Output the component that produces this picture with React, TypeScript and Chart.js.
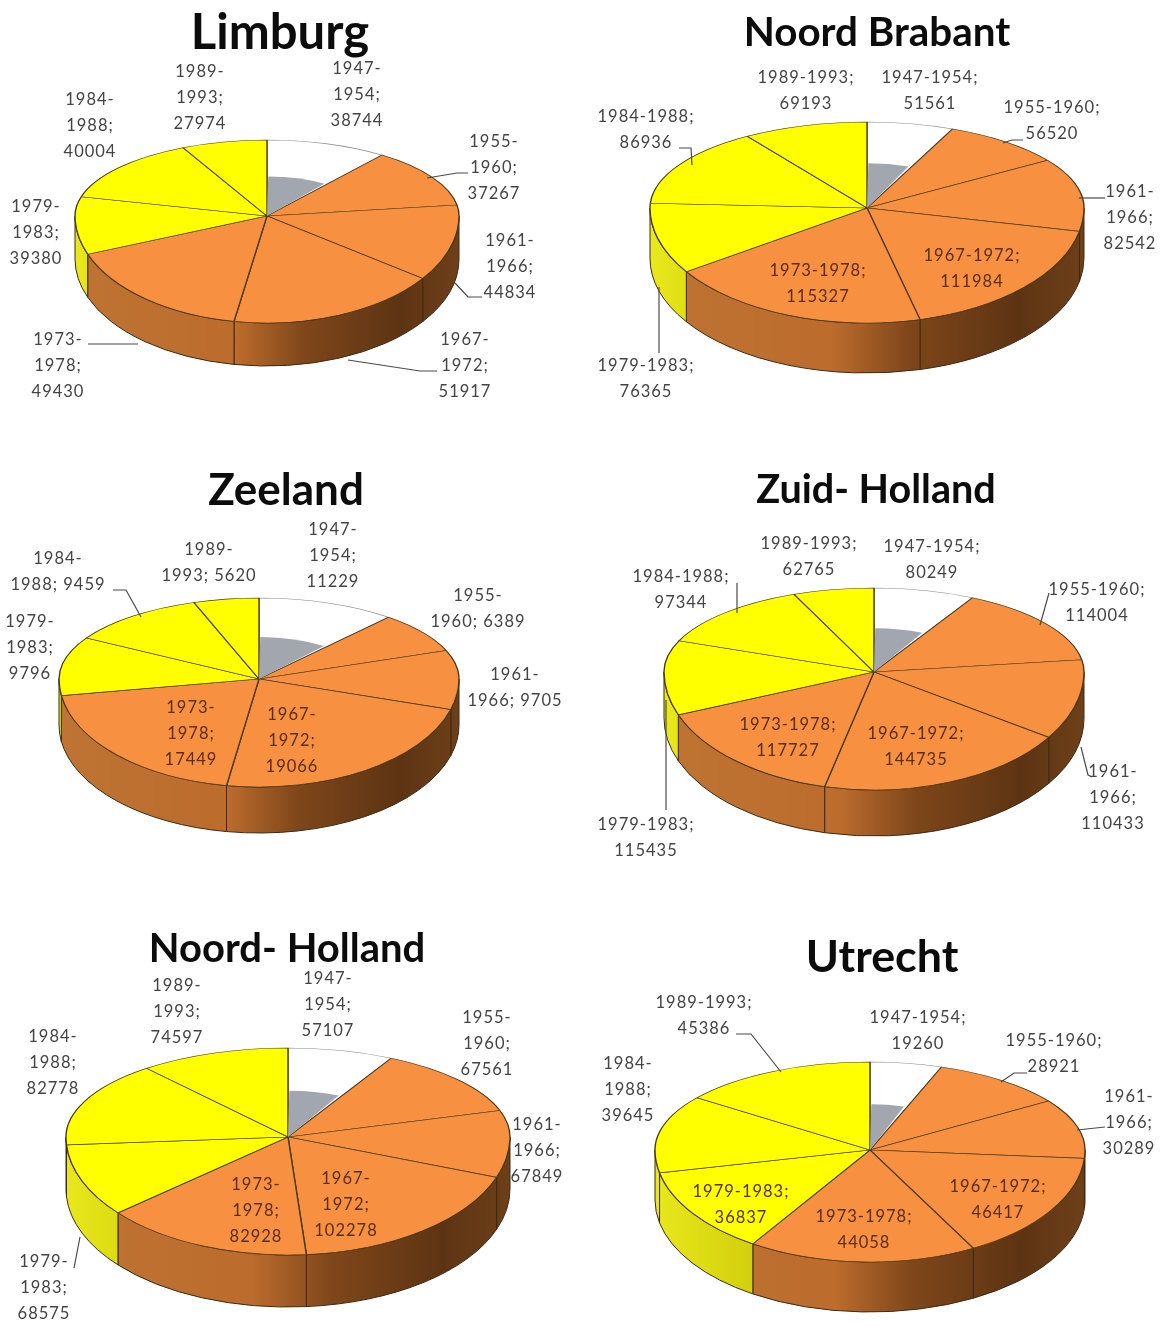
import React, { useEffect, useRef } from "react";
import { Chart, registerables } from "chart.js";

Chart.register(...registerables);

const categories = ["1947-1954", "1955-1960", "1961-1966", "1967-1972", "1973-1978", "1979-1983", "1984-1988", "1989-1993"];
const limburg = [38744, 37267, 44834, 51917, 49430, 39380, 40004, 27974];
const noordBrabant = [51561, 56520, 82542, 111984, 115327, 76365, 86936, 69193];
const zeeland = [11229, 6389, 9705, 19066, 17449, 9796, 9459, 5620];
const zuidHolland = [80249, 114004, 110433, 144735, 117727, 115435, 97344, 62765];
const noordHolland = [57107, 67561, 67849, 102278, 82928, 68575, 82778, 74597];
const utrecht = [19260, 28921, 30289, 46417, 44058, 36837, 39645, 45386];

const sliceColors = ["#FFFFFF", "#F79040", "#F79040", "#F79040", "#F79040", "#FFFF00", "#FFFF00", "#FFFF00"];

// 3D view distortion of the drawn angle: [angle in degrees, shift in degrees]
const viewWarp = [[-90, 0], [-55, -6.5], [-10, -1], [40, -6.5], [90, 0], [120, 4], [141, 5], [152, 6.5], [165, 3.4], [176, 0], [196, -1], [225, 5], [243, 4.5], [270, 0]];

function warp(rad: number): number {
  const d = (rad * 180) / Math.PI;
  for (let i = 1; i < viewWarp.length; i++) {
    const [a0, s0] = viewWarp[i - 1];
    const [a1, s1] = viewWarp[i];
    if (d <= a1) return ((d + s0 + ((s1 - s0) * (d - a0)) / (a1 - a0)) * Math.PI) / 180;
  }
  return rad;
}

// label layout: [mode, centre x, first line centre y, inside slice]
// mode n = three lines, w = two lines, z = year / year + value
type Lab = [string, number, number, boolean?];
type Panel = {
  title: string; data: number[]; box: number[]; cx: number; cy: number; rx: number; ryT: number; ryB: number;
  depth: number; tx: number; ty: number; ts: number; labels: Lab[]; leaders: number[][][];
};

const panels: Panel[] = [
  {
    title: "Limburg", data: limburg, box: [0, 0, 584, 445], cx: 267, cy: 216, rx: 192, ryT: 76, ryB: 107, depth: 43,
    tx: 280, ty: 33, ts: 49,
    labels: [["n", 357, 69], ["n", 494, 142], ["n", 510, 241], ["n", 465, 340], ["n", 58, 340], ["n", 36, 207], ["n", 90, 100], ["n", 200, 72]],
    leaders: [[[468, 173], [457, 173], [427, 178]], [[482, 297], [468, 297], [455, 283]], [[437, 371], [420, 371], [348, 360]], [[88, 344], [138, 344]]],
  },
  {
    title: "Noord Brabant", data: noordBrabant, box: [584, 0, 584, 445], cx: 867, cy: 208, rx: 217, ryT: 86, ryB: 115, depth: 50,
    tx: 877, ty: 33, ts: 40.4,
    labels: [["w", 930, 78], ["w", 1052, 108], ["n", 1130, 192], ["w", 972, 256, true], ["w", 818, 271, true], ["w", 646, 366], ["w", 646, 117], ["w", 806, 78]],
    leaders: [[[1003, 143], [1012, 140], [1023, 140]], [[1079, 198], [1105, 198]], [[679, 148], [691, 148], [692, 165]], [[659, 287], [659, 353]]],
  },
  {
    title: "Zeeland", data: zeeland, box: [0, 445, 584, 460], cx: 259, cy: 679, rx: 200, ryT: 81, ryB: 108, depth: 46,
    tx: 286, ty: 491, ts: 44,
    labels: [["n", 333, 530], ["z", 478, 596], ["z", 515, 675], ["n", 292, 715, true], ["n", 191, 708, true], ["n", 30, 622], ["z", 58, 559], ["z", 209, 550]],
    leaders: [[[113, 590], [126, 590], [141, 617]]],
  },
  {
    title: "Zuid- Holland", data: zuidHolland, box: [584, 445, 584, 460], cx: 874, cy: 672, rx: 210, ryT: 84, ryB: 118, depth: 46,
    tx: 876, ty: 490, ts: 39.6,
    labels: [["w", 932, 547], ["w", 1097, 590], ["n", 1113, 772], ["w", 916, 734, true], ["w", 788, 725, true], ["w", 646, 825], ["w", 681, 577], ["w", 809, 544]],
    leaders: [[[1049, 593], [1040, 625]], [[1081, 747], [1088, 775], [1092, 777]], [[737, 583], [737, 613]], [[666, 700], [666, 810]]],
  },
  {
    title: "Noord- Holland", data: noordHolland, box: [0, 905, 584, 421], cx: 288, cy: 1137, rx: 222, ryT: 89, ryB: 118, depth: 52,
    tx: 287, ty: 949, ts: 40,
    labels: [["n", 328, 979], ["n", 487, 1018], ["n", 537, 1125], ["n", 346, 1179, true], ["n", 256, 1185, true], ["n", 44, 1262], ["n", 53, 1037], ["n", 177, 986]],
    leaders: [[[80, 1237], [74, 1268]]],
  },
  {
    title: "Utrecht", data: utrecht, box: [584, 905, 584, 421], cx: 870, cy: 1150, rx: 215, ryT: 88, ryB: 112, depth: 50,
    tx: 882, ty: 958, ts: 44.8,
    labels: [["w", 918, 1018], ["w", 1054, 1041], ["n", 1129, 1097], ["w", 998, 1187, true], ["w", 864, 1217, true], ["w", 741, 1192, true], ["n", 628, 1064], ["w", 704, 1003]],
    leaders: [[[1001, 1082], [1014, 1073], [1027, 1073]], [[1077, 1130], [1105, 1127]], [[736, 1034], [751, 1034], [781, 1072]]],
  },
];

function labelLines(mode: string, cat: string, value: number): string[] {
  const [a, b] = cat.split("-");
  if (mode === "n") return [a + "-", b + ";", String(value)];
  if (mode === "z") return [a + "-", b + "; " + value];
  return [cat + ";", String(value)];
}

const pie3d = {
  id: "pie3d",
  afterDatasetsUpdate(chart: any) {
    chart.getDatasetMeta(0).data.forEach((a: any) => {
      a.startAngle = warp(a.startAngle);
      a.endAngle = warp(a.endAngle);
      a.circumference = a.endAngle - a.startAngle;
    });
  },
  beforeDatasetsDraw(chart: any, _args: any, opts: any) {
    const p: Panel = opts.panel;
    const ctx: CanvasRenderingContext2D = chart.ctx;
    const ox = p.box[0], oy = p.box[1];
    const meta = chart.getDatasetMeta(0);
    const arcs = meta.data;
    const cx = p.cx - ox, cy = p.cy - oy;
    const { rx, ryT, ryB, depth } = p;

    ctx.save();
    const brown = ctx.createLinearGradient(cx - rx, 0, cx + rx, 0);
    brown.addColorStop(0, "#BE7432");
    brown.addColorStop(0.42, "#BC6C2D");
    brown.addColorStop(0.6, "#7E461A");
    brown.addColorStop(0.85, "#5D3413");
    brown.addColorStop(1, "#6E4019");
    const lime = ctx.createLinearGradient(cx - rx, 0, cx - rx * 0.2, 0);
    lime.addColorStop(0, "#E8E81C");
    lime.addColorStop(1, "#C2BC00");
    arcs.forEach((a: any, i: number) => {
      const s = Math.max(a.startAngle, 0);
      const e = Math.min(a.endAngle, Math.PI);
      if (e <= s) return;
      ctx.beginPath();
      ctx.ellipse(cx, cy, rx, ryB, 0, s, e);
      ctx.ellipse(cx, cy + depth, rx, ryB, 0, e, s, true);
      ctx.closePath();
      ctx.fillStyle = sliceColors[i] === "#FFFF00" ? lime : brown;
      ctx.fill();
      ctx.strokeStyle = "#3E2A14";
      ctx.lineWidth = 1;
      ctx.stroke();
    });
    ctx.restore();

    [ryT / rx, ryB / rx].forEach((k, n) => {
      ctx.save();
      ctx.beginPath();
      ctx.rect(0, n === 0 ? 0 : cy, chart.width, n === 0 ? cy : chart.height - cy);
      ctx.clip();
      ctx.translate(cx, cy);
      ctx.scale(1, k);
      ctx.translate(-arcs[0].x, -arcs[0].y);
      meta.controller.draw();
      if (n === 0) {
        const w = arcs[0];
        ctx.beginPath();
        ctx.moveTo(w.x, w.y);
        ctx.arc(w.x, w.y, rx * 0.52, w.startAngle + 0.012, w.endAngle - 0.03);
        ctx.closePath();
        ctx.fillStyle = "#A2A6AE";
        ctx.fill();
      }
      ctx.restore();
    });

    ctx.save();
    ctx.translate(-ox, -oy);
    ctx.strokeStyle = "#4A4A4A";
    ctx.lineWidth = 1.2;
    p.leaders.forEach((line) => {
      ctx.beginPath();
      line.forEach(([x, y], i) => (i ? ctx.lineTo(x, y) : ctx.moveTo(x, y)));
      ctx.stroke();
    });
    ctx.textAlign = "center";
    ctx.textBaseline = "middle";
    ctx.font = "16.5px Lato";
    (ctx as any).letterSpacing = "1px";
    p.labels.forEach(([mode, x, y, inside], i) => {
      ctx.fillStyle = inside ? "#5A2E12" : "#444444";
      labelLines(mode, categories[i], p.data[i]).forEach((t, j) => ctx.fillText(t, x, y + j * 26));
    });
    (ctx as any).letterSpacing = "0px";
    ctx.fillStyle = "#0C0C0C";
    ctx.font = `bold ${p.ts}px Lato`;
    ctx.fillText(p.title, p.tx, p.ty);
    ctx.restore();
    return false;
  },
};

function PieBox({ panel }: { panel: Panel }) {
  const ref = useRef<HTMLCanvasElement>(null);
  useEffect(() => {
    const chart = new Chart(ref.current as HTMLCanvasElement, {
      type: "pie",
      data: {
        labels: categories,
        datasets: [{
          data: panel.data,
          backgroundColor: sliceColors,
          borderColor: sliceColors.map((c) => (c === "#FFFFFF" ? "#8A8A8A" : "#4A3A18")),
          borderWidth: 1.4,
        }],
      },
      options: {
        animation: false,
        responsive: false,
        radius: panel.rx,
        plugins: { legend: { display: false }, tooltip: { enabled: false }, pie3d: { panel } },
      } as any,
      plugins: [pie3d],
    });
    return () => chart.destroy();
  }, [panel]);
  const [x, y, w, h] = panel.box;
  return (
    <canvas ref={ref} width={w} height={h}
      style={{ position: "absolute", left: x, top: y, width: w, height: h, filter: "blur(0.5px)" }} />
  );
}

export default function App() {
  return (
    <div style={{ position: "absolute", left: 0, top: 0, width: 1168, height: 1326, background: "#FFFFFF", overflow: "hidden" }}>
      {panels.map((p) => <PieBox key={p.title} panel={p} />)}
    </div>
  );
}
